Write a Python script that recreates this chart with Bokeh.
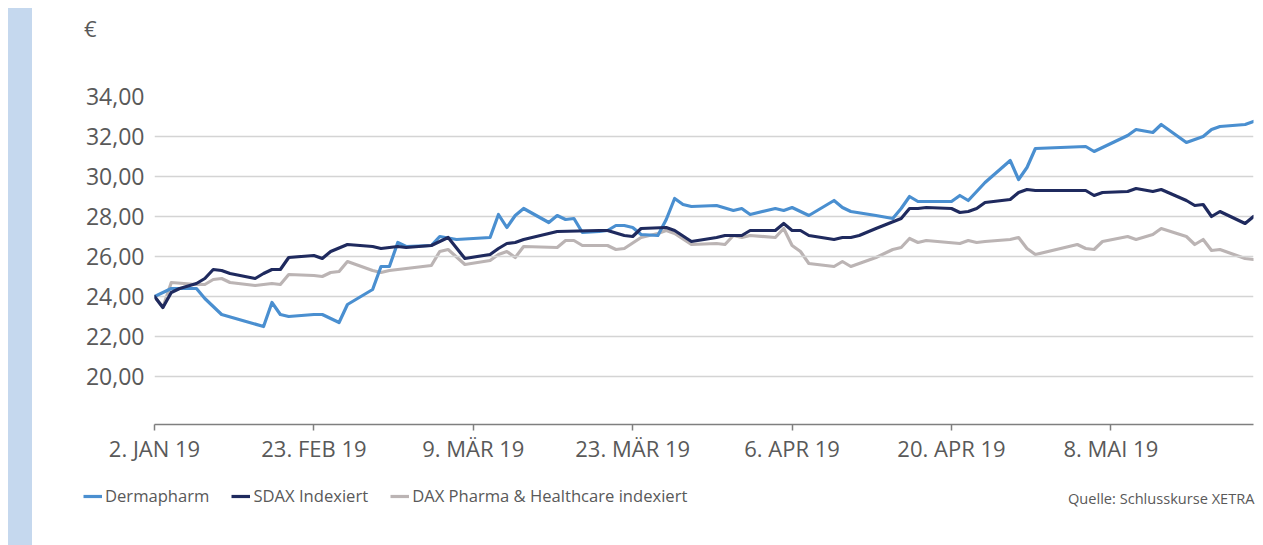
from bokeh.plotting import figure
from bokeh.models import (FixedTicker, Legend, LegendItem, Label, Div, Range1d)
from bokeh.layouts import row, column
from bokeh.embed import file_html
from bokeh.resources import INLINE

# ---- data (trading-day index, closing value in EUR) ----
derma_idx = [0, 2, 5, 6, 8, 13, 14, 15, 16, 19, 20, 22, 23, 26, 27, 28, 29, 30, 33, 34, 36, 40, 41, 42, 43, 44,
             47, 48, 49, 50, 51, 53, 54, 55, 56, 57, 58, 60, 61, 62, 63, 64, 67, 69, 70, 71, 74, 75, 76, 78,
             81, 82, 83, 86, 88, 89, 90, 91, 95, 96, 97, 99, 102, 103, 104, 105, 111, 112, 116, 117, 119, 120,
             123, 125, 126, 127, 130, 131]
derma_val = [24.0, 24.4, 24.4, 23.9, 23.1, 22.5, 23.7, 23.1, 23.0, 23.1, 23.1, 22.7, 23.6, 24.35, 25.5, 25.5,
             26.7, 26.5, 26.55, 27.0, 26.85, 26.95, 28.1, 27.45, 28.05, 28.4,
             27.7, 28.05, 27.85, 27.9, 27.2, 27.25, 27.3, 27.55, 27.55, 27.45, 27.1, 27.05, 27.85, 28.9, 28.6,
             28.5, 28.55, 28.3, 28.4, 28.1, 28.4, 28.3, 28.45, 28.05,
             28.8, 28.45, 28.25, 28.05, 27.9, 28.4, 29.0, 28.75, 28.75, 29.05, 28.8, 29.7, 30.8, 29.85, 30.45,
             31.4, 31.5, 31.25, 32.05, 32.35, 32.2, 32.6, 31.7, 32.0, 32.35, 32.5, 32.6, 32.75]

sdax_idx = [0, 1, 2, 3, 5, 6, 7, 8, 9, 12, 13, 14, 15, 16, 19, 20, 21, 23, 26, 27, 29, 30, 33, 35, 37, 40, 41,
            42, 43, 44, 47, 48, 53, 54, 56, 57, 58, 61, 62, 64, 67, 68, 70, 71, 74, 75, 76, 77, 78,
            81, 82, 83, 84, 86, 89, 90, 91, 92, 95, 96, 97, 98, 99, 102, 103, 104, 105,
            111, 112, 113, 116, 117, 119, 120, 123, 124, 125, 126, 127, 130, 131]
sdax_val = [24.0, 23.45, 24.2, 24.4, 24.65, 24.9, 25.35, 25.3, 25.15, 24.9, 25.15, 25.35, 25.35, 25.95, 26.05,
            25.9, 26.25, 26.6, 26.5, 26.4, 26.5, 26.45, 26.55, 26.95, 25.9, 26.1, 26.4,
            26.65, 26.7, 26.85, 27.15, 27.25, 27.3, 27.3, 27.05, 27.0, 27.4, 27.45, 27.3, 26.75, 26.95, 27.05,
            27.05, 27.3, 27.3, 27.65, 27.3, 27.3, 27.05,
            26.85, 26.95, 26.95, 27.05, 27.4, 27.9, 28.4, 28.4, 28.45, 28.4, 28.2, 28.25, 28.4, 28.7, 28.85,
            29.2, 29.35, 29.3,
            29.3, 29.05, 29.2, 29.25, 29.4, 29.25, 29.35, 28.8, 28.55, 28.6, 28.0, 28.25, 27.65, 28.0]

dax_idx = [0, 1, 2, 5, 6, 7, 8, 9, 12, 14, 15, 16, 19, 20, 21, 22, 23, 26, 27, 28, 33, 34, 35, 37, 40, 41, 42,
           43, 44, 48, 49, 50, 51, 53, 54, 55, 56, 58, 60, 61, 62, 64, 67, 68, 69, 70, 71, 74, 75, 76, 77, 78,
           81, 82, 83, 84, 86, 88, 89, 90, 91, 92, 96, 97, 98, 99, 102, 103, 104, 105,
           110, 111, 112, 113, 116, 117, 119, 120, 123, 124, 125, 126, 127, 130, 131]
dax_val = [24.0, 23.45, 24.7, 24.6, 24.6, 24.85, 24.9, 24.7, 24.55, 24.65, 24.6, 25.1, 25.05, 25.0, 25.2, 25.25,
           25.75, 25.3, 25.2, 25.3, 25.55, 26.25, 26.35, 25.6, 25.8, 26.1, 26.25,
           25.95, 26.5, 26.45, 26.8, 26.8, 26.55, 26.55, 26.55, 26.35, 26.4, 26.95, 27.15, 27.3, 27.15, 26.6,
           26.65, 26.6, 27.05, 26.95, 27.05, 26.95, 27.4, 26.55, 26.25, 25.65,
           25.5, 25.75, 25.5, 25.65, 25.95, 26.35, 26.45, 26.9, 26.7, 26.8, 26.65, 26.8, 26.7, 26.75, 26.85,
           26.95, 26.4, 26.1,
           26.6, 26.4, 26.35, 26.75, 27.0, 26.85, 27.1, 27.4, 27.0, 26.6, 26.85, 26.3, 26.35, 25.9, 25.85]

tick_idx = [0, 19, 38, 57, 76, 95, 114]
tick_labels = ["2. JAN 19", "23. FEB 19", "9. MÄR 19", "23. MÄR 19", "6. APR 19", "20. APR 19", "8. MAI 19"]
y_ticks = [20, 22, 24, 26, 28, 30, 32, 34]

series_names = ["Dermapharm", "SDAX Indexiert", "DAX Pharma & Healthcare indexiert"]
colors = ["#4a8fd0", "#1f2a5e", "#bbb4b4"]
source_note = "Quelle: Schlusskurse XETRA"
unit_label = "€"

TXT = "#595959"
FONT = "Open Sans"
W = 1223
lw = 3.2

# ---- main chart ----
p = figure(width=W, height=420, output_backend="svg", toolbar_location=None,
           x_range=Range1d(0, 131), y_range=Range1d(17.6, 34.0),
           min_border_left=122, min_border_right=2, min_border_top=46, min_border_bottom=46,
           outline_line_color=None, background_fill_color="white", border_fill_color="white")
p.frame_align = False

r_derma = p.line(derma_idx, derma_val, line_color=colors[0], line_width=lw, line_join="round", line_cap="round")
r_sdax = p.line(sdax_idx, sdax_val, line_color=colors[1], line_width=lw, line_join="round", line_cap="round")
r_dax = p.line(dax_idx, dax_val, line_color=colors[2], line_width=lw, line_join="round", line_cap="round")
r_dax.level = "underlay"

p.xaxis.ticker = FixedTicker(ticks=tick_idx)
p.xaxis.major_label_overrides = {i: t for i, t in zip(tick_idx, tick_labels)}
p.xaxis.minor_tick_line_color = None
p.xaxis.major_tick_in = 0
p.xaxis.major_tick_out = 6
p.xaxis.major_tick_line_color = "#7f7f7f"
p.xaxis.axis_line_color = "#7f7f7f"
p.xaxis.axis_line_width = 1.5
p.xaxis.major_tick_line_width = 1.5
p.xaxis.major_label_text_font = FONT
p.xaxis.major_label_text_font_size = "22px"
p.xaxis.major_label_text_color = TXT
p.xaxis.major_label_standoff = 2

p.yaxis.ticker = FixedTicker(ticks=y_ticks)
p.yaxis.major_label_overrides = {v: f"{v},00" for v in y_ticks}
p.yaxis.axis_line_color = None
p.yaxis.major_tick_line_color = None
p.yaxis.minor_tick_line_color = None
p.yaxis.major_label_text_font = FONT
p.yaxis.major_label_text_font_size = "23px"
p.yaxis.major_label_text_color = TXT
p.yaxis.major_label_standoff = 4

p.xgrid.grid_line_color = None
p.ygrid.grid_line_color = "#d4d4d4"
p.ygrid.grid_line_width = 1.5

# ---- legend strip (own figure, frame covers the whole strip) ----
q = figure(width=W, height=75, output_backend="svg", toolbar_location=None,
           x_range=Range1d(0, 1), y_range=Range1d(0, 1), x_axis_type=None, y_axis_type=None,
           min_border=0, min_border_left=0, min_border_right=0, min_border_top=0, min_border_bottom=0,
           outline_line_color=None, background_fill_color="white", border_fill_color="white")
q.frame_align = False
q.xgrid.visible = False
q.ygrid.visible = False
keys = [q.line([-10, -9], [-10, -10], line_color=c, line_width=lw) for c in colors]
legend = Legend(items=[LegendItem(label=n, renderers=[r]) for n, r in zip(series_names, keys)],
                orientation="horizontal", location=(51, 38),
                glyph_width=19, glyph_height=20, label_standoff=3, spacing=22,
                padding=0, margin=0, border_line_color=None, background_fill_alpha=0,
                label_text_font=FONT, label_text_font_size="16.6px", label_text_color=TXT,
                label_height=20)
q.add_layout(legend)
q.add_layout(Label(x=W - 1, y=48, x_units="screen", y_units="screen", text=source_note,
                   text_align="right", text_baseline="middle", text_font=FONT,
                   text_font_size="14.6px", text_color=TXT))

euro = Div(text=f'<div style="margin:0;padding:9px 0 0 52px;font-family:\'Open Sans\';font-size:22px;'
                f'line-height:22px;color:{TXT};">{unit_label}</div>',
           width=W, height=42, margin=0)

bar = Div(text="", width=24, height=537, margin=0, styles={"background-color": "#c5d8ee"})
layout = row(bar, column(euro, p, q, spacing=0, margin=0), spacing=0, margin=(8, 0, 0, 8))

open("out.html", "w").write(file_html(layout, INLINE))
